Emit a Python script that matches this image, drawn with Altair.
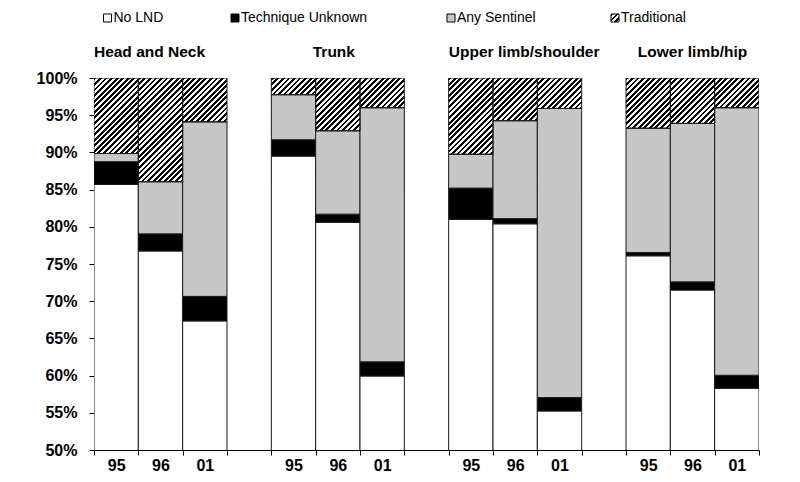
import altair as alt
import pandas as pd

# ---------------- data ----------------
GROUPS = ["Head and Neck", "Trunk", "Upper limb/shoulder", "Lower limb/hip"]
YEARS = ["95", "96", "01"]
CATEGORIES = ["No LND", "Technique Unknown", "Any Sentinel", "Traditional"]

NO_LND = [85.7, 76.75, 67.35, 89.5, 80.6, 59.95, 81.0, 80.4, 55.25, 76.1, 71.5, 58.3]
TECH_UNKNOWN = [3.05, 2.3, 3.3, 2.2, 1.1, 1.9, 4.2, 0.7, 1.8, 0.45, 1.1, 1.75]
ANY_SENTINEL = [1.1, 7.0, 23.45, 6.05, 11.2, 34.15, 4.55, 13.15, 38.85, 16.7, 21.3, 35.95]
TRADITIONAL = [10.15, 13.95, 5.9, 2.25, 7.1, 4.0, 10.25, 5.75, 4.1, 6.75, 6.1, 4.0]
SERIES = [NO_LND, TECH_UNKNOWN, ANY_SENTINEL, TRADITIONAL]

Y_TICKS = [50, 55, 60, 65, 70, 75, 80, 85, 90, 95, 100]

# ---------------- style / layout ----------------
COLORS = ["#ffffff", "#000000", "#c6c6c6", "transparent"]
FONT = "Liberation Sans"
PLOT_W, PLOT_H = 665, 372
Y_MIN, Y_MAX = 50, 100
HATCH_FLOOR = 85          # hatched underlay reaches down to here (hidden by the opaque segments)
LEGEND_X = [13.5, 141, 357, 521]
LEGEND_Y = -60
TITLE_Y = -26
TITLE_DX = [-11, -4, 9, 0]

slots = []
for gi, g in enumerate(GROUPS):
    if gi:
        slots.append(f"gap{gi}")
    for y in YEARS:
        slots.append(f"{g}|{y}")

rows = []
for ci, cat in enumerate(CATEGORIES):
    for gi, g in enumerate(GROUPS):
        for yi, y in enumerate(YEARS):
            rows.append({"slot": f"{g}|{y}", "category": cat, "ord": ci,
                         "value": SERIES[ci][gi * 3 + yi]})
df = pd.DataFrame(rows)


def hatch(w, h, period, frac=0.5):
    """Diagonal '/' stripes as a linear gradient in bounding-box units."""
    L = w + h
    r = h / w
    s = L / (w * (1 + r * r))
    n = max(1, int(round(L / period)))
    stops = []
    for k in range(n):
        a, b, c = k / n, (k + frac) / n, (k + 1) / n
        stops += [{"offset": round(a, 6), "color": "black"}, {"offset": round(b, 6), "color": "black"},
                  {"offset": round(b, 6), "color": "white"}, {"offset": round(c, 6), "color": "white"}]
    return {"gradient": "linear", "x1": 0, "y1": 0, "x2": round(s, 6), "y2": round(s * r, 6), "stops": stops}


bar_w = PLOT_W / len(slots)
bar_h = (Y_MAX - HATCH_FLOOR) * PLOT_H / (Y_MAX - Y_MIN)
HATCH = hatch(bar_w, bar_h, 5.6)
HATCH_SYM = hatch(8, 8, 5.3)

x_scale = alt.Scale(domain=slots, paddingInner=0, paddingOuter=0)
x_enc = alt.X("slot:N", scale=x_scale,
              axis=alt.Axis(title=None, labelAngle=0, tickBand="extent",
                            labelExpr="isString(datum.value) ? (split(datum.value, '|')[1] || '') : ''",
                            labelFont=FONT, labelFontSize=16, labelFontWeight="bold",
                            labelColor="black", labelBaseline="alphabetic", labelPadding=15,
                            tickSize=5, domainColor="black", tickColor="black", grid=False))
y_scale = alt.Scale(domain=[Y_MIN, Y_MAX], zero=False, nice=False)
y_axis = alt.Axis(title=None, values=Y_TICKS, labelExpr="datum.value + '%'",
                  labelFont=FONT, labelFontSize=16, labelFontWeight="bold",
                  labelColor="black", labelPadding=12, tickSize=5,
                  domainColor="black", tickColor="black", grid=False)

base = alt.Chart(df)

hatch_layer = base.mark_bar(fill=HATCH, strokeWidth=0).encode(
    x=x_enc,
    y=alt.Y("sum(value):Q", scale=y_scale, axis=y_axis),
    y2=alt.datum(HATCH_FLOOR),
)

bars = base.mark_bar(clip=True, stroke="#1a1a1a", strokeWidth=1).encode(
    x=x_enc,
    y=alt.Y("value:Q", stack="zero", scale=y_scale, axis=y_axis),
    fill=alt.Fill("category:N", scale=alt.Scale(domain=CATEGORIES, range=COLORS), legend=None),
    order=alt.Order("ord:Q", sort="ascending"),
)

layers = [hatch_layer, bars]

for gi, g in enumerate(GROUPS):
    tdf = pd.DataFrame({"slot": [f"{g}|{YEARS[1]}"], "title": [g]})
    layers.append(alt.Chart(tdf).mark_text(font=FONT, fontSize=15.5, fontWeight="bold",
                                           color="black", baseline="middle",
                                           align="center", dx=TITLE_DX[gi]).encode(
        x=alt.X("slot:N", scale=x_scale), y=alt.value(TITLE_Y), text="title:N"))

for ci, cat in enumerate(CATEGORIES):
    ldf = pd.DataFrame({"category": [cat]})
    fill = HATCH_SYM if cat == "Traditional" else COLORS[ci]
    layers.append(alt.Chart(ldf).mark_point(shape="square", size=64, filled=True,
                                            fill=fill, stroke="black", strokeWidth=1,
                                            opacity=1).encode(
        x=alt.value(LEGEND_X[ci]), y=alt.value(LEGEND_Y)))
    layers.append(alt.Chart(ldf).mark_text(font=FONT, fontSize=14, color="black",
                                           align="left", baseline="middle").encode(
        x=alt.value(LEGEND_X[ci] + 6), y=alt.value(LEGEND_Y), text="category:N"))

chart = alt.layer(*layers).properties(
    width=PLOT_W, height=PLOT_H,
    padding={"left": 86, "top": 70, "right": 33, "bottom": 24},
    autosize=alt.AutoSizeParams(type="none"),
    background="white",
).configure_view(stroke=None)

chart.save("out.html", embed_options={"renderer": "svg", "actions": False})
